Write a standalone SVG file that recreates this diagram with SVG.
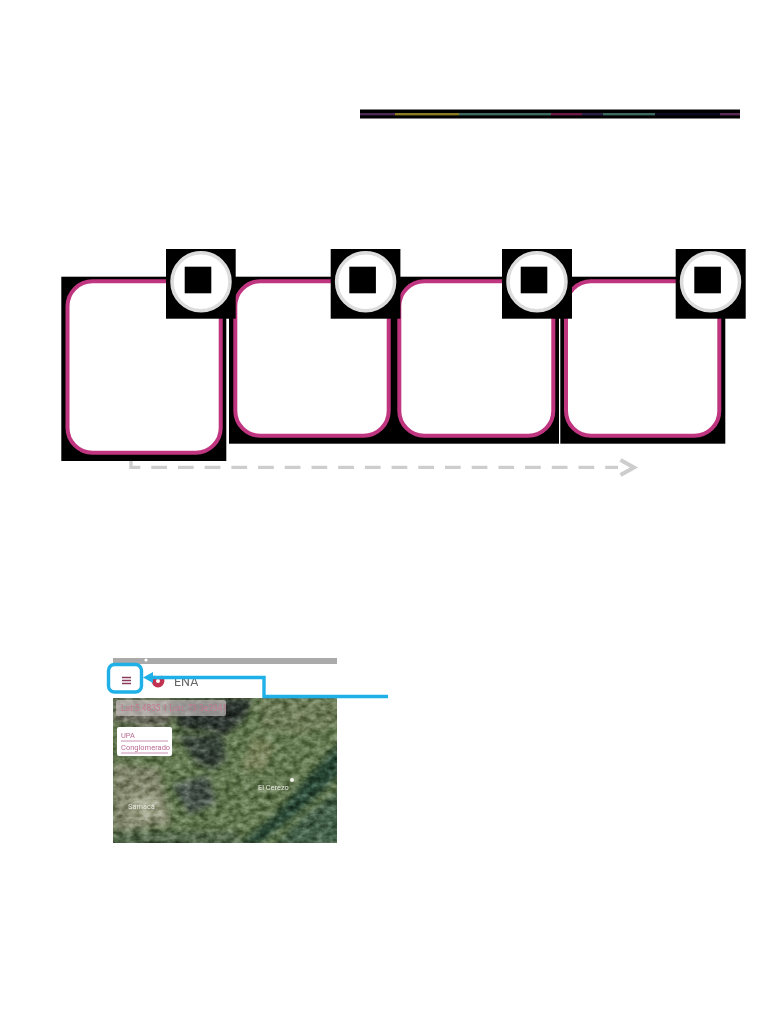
<svg xmlns="http://www.w3.org/2000/svg" width="782" height="1012" viewBox="0 0 782 1012">
<style>
.bk{fill:#000}
.card{fill:#fff;stroke:#c0357f;stroke-width:4}
.ring{fill:#fff;stroke:#dcdcdc;stroke-width:3.5}
.flow{fill:none;stroke:#cdcdcd;stroke-width:3.4}
.blue{fill:none;stroke:#1eb0e6;stroke-width:3.4}
.s{font-family:"Roboto","Liberation Sans",sans-serif}
</style>
<defs>
<clipPath id="mapClip"><rect x="113" y="698" width="224" height="145"/></clipPath>
<filter id="b1" x="-5%" y="-5%" width="110%" height="110%"><feGaussianBlur stdDeviation="0.5"/></filter>
<filter id="terrain" x="0" y="0" width="100%" height="100%" color-interpolation-filters="sRGB">
<feGaussianBlur in="SourceGraphic" stdDeviation="3" result="base"/>
<feTurbulence type="fractalNoise" baseFrequency="0.12 0.17" numOctaves="3" seed="11" result="n"/>
<feColorMatrix in="n" type="matrix" values="1.1 0 0 0 -0.05 1.1 0 0 0 -0.05 1.1 0 0 0 -0.05 0 0 0 0 1" result="g"/>
<feBlend in="g" in2="base" mode="soft-light"/>
<feGaussianBlur stdDeviation="0.6"/>
</filter>
</defs>

<g id="top-bar">
<rect class="bk" x="360" y="109.5" width="380" height="9"/>
<rect x="360" y="113" width="35" height="2.4" fill="#4a2a50"/>
<rect x="395" y="113" width="64" height="2.4" fill="#8a7c20"/>
<rect x="459" y="113" width="92" height="2.4" fill="#3d6a60"/>
<rect x="551" y="113" width="31" height="2.4" fill="#6a1a45"/>
<rect x="582" y="113" width="21" height="2.4" fill="#2a2045"/>
<rect x="603" y="113" width="52" height="2.4" fill="#3d6a60"/>
<rect x="655" y="113" width="65" height="2.4" fill="#0a0a20"/>
<rect x="720" y="113" width="20" height="2.4" fill="#5a2a55"/>
</g>

<g id="connectors">
<path class="flow" d="M131 461V467.4H618" stroke-dasharray="15.7 11"/>
<path class="flow" d="M620.5 460L634 467.4L620.5 475" style="stroke-width:4"/>
</g>

<g id="card-1">
<rect class="bk" x="61.3" y="276.7" width="165" height="184.3"/>
<rect class="card" x="67.5" y="281.3" width="153.2" height="171.4" rx="25"/>
</g>
<g id="card-2">
<rect class="bk" x="229" y="276.7" width="165" height="167"/>
<rect class="card" x="235.3" y="281.3" width="153.4" height="154.4" rx="25"/>
</g>
<g id="card-3">
<rect class="bk" x="394" y="276.7" width="165" height="167"/>
<rect class="card" x="399.3" y="281.3" width="154" height="154.4" rx="25"/>
</g>
<g id="card-4">
<rect class="bk" x="560.3" y="276.7" width="165" height="167"/>
<rect class="card" x="566" y="281.3" width="153.3" height="154.4" rx="25"/>
</g>

<g id="badge-1">
<rect class="bk" x="166" y="249" width="69.7" height="69.7"/>
<circle class="ring" cx="201" cy="281.7" r="29"/>
<rect class="bk" x="184.7" y="266.7" width="26.6" height="26.6"/>
</g>
<g id="badge-2">
<rect class="bk" x="330.7" y="249" width="69.7" height="69.7"/>
<circle class="ring" cx="365.6" cy="281.7" r="29"/>
<rect class="bk" x="349.3" y="266.7" width="26.6" height="26.6"/>
</g>
<g id="badge-3">
<rect class="bk" x="502" y="249" width="70" height="69.7"/>
<circle class="ring" cx="537" cy="281.7" r="29"/>
<rect class="bk" x="520.7" y="266.7" width="26.6" height="26.6"/>
</g>
<g id="badge-4">
<rect class="bk" x="675.7" y="249" width="70" height="69.7"/>
<circle class="ring" cx="710.5" cy="281.7" r="29"/>
<rect class="bk" x="694.3" y="266.7" width="26.6" height="26.6"/>
</g>

<g id="screenshot">
<rect x="113" y="658" width="224" height="6" fill="#aaa"/>
<rect x="113" y="664" width="224" height="34" fill="#fff"/>
<g clip-path="url(#mapClip)">
<g filter="url(#terrain)">
<rect x="90" y="680" width="270" height="185" fill="#62784f"/>
<path d="M113 698H175L170 725L150 728L113 722Z" fill="#6a6a5c"/>
<path d="M170 700L252 698L245 718L225 735L205 730L180 728Z" fill="#2c342f"/>
<path d="M178 735L222 735L226 760L212 770L195 762Z" fill="#38443a"/>
<path d="M258 700H337V725L300 735L262 728Z" fill="#6f7c58"/>
<path d="M255 735L275 745L265 770L240 770Z" fill="#78825a"/>
<path d="M113 762L160 768L172 825L113 832Z" fill="#7e8368"/>
<path d="M125 792L158 796L165 816L133 822Z" fill="#a0a48a"/>
<path d="M172 785L208 775L216 802L190 815Z" fill="#46524a"/>
<path d="M340 742L340 775L296 815L258 845H238L275 815L310 775Z" fill="#284634"/>
<path d="M340 790L340 845H275L305 815Z" fill="#44604a"/>
<path d="M113 832H238V850H113Z" fill="#4f6448"/>
</g>
</g>
<g id="ui" filter="url(#b1)">
<rect x="116" y="700" width="110" height="16" rx="2" fill="#d8d0d0" fill-opacity=".6"/>
<rect x="117" y="727" width="55" height="29" rx="2" fill="#fff"/>
<path d="M122 677.5h9M122 680.5h9M122 683.5h9" stroke="#8c3a5c" stroke-width="1.5" fill="none"/>
<circle cx="158" cy="681" r="4.2" fill="#fff" stroke="#c0304f" stroke-width="4.4"/>
<rect x="155" y="673" width="6" height="4" fill="#fff"/>
<circle cx="146" cy="660" r="1.6" fill="#fff"/>
<text class="s" x="174" y="686" font-size="12.5" fill="#666">ENA</text>
<text class="s" x="121" y="711" font-size="8.4" fill="#c07a90">Lat:5.4835 1  Lon: 73.3e3941</text>
<text class="s" x="121" y="738" font-size="7.5" fill="#b96a94">UPA</text>
<path d="M121 741H168M121 753H168" stroke="#c98fb0" stroke-width="1" fill="none"/>
<text class="s" x="121" y="750" font-size="7.5" fill="#b96a94">Conglomerado</text>
<text class="s" x="258" y="790" font-size="7.4" fill="#e8e8e0">El Cerezo</text>
<text class="s" x="128" y="809" font-size="7.4" fill="#e8e8e0">Samacá</text>
<circle cx="292" cy="780" r="2" fill="#f2f4ee"/>
</g>
</g>

<g id="connector-blue">
<rect class="blue" x="108.5" y="664.5" width="33" height="27.5" rx="6"/>
<path class="blue" d="M388 696.5H264V677.5H148"/>
<path d="M143 677.5L153 672V683Z" fill="#1eb0e6"/>
</g>
</svg>
